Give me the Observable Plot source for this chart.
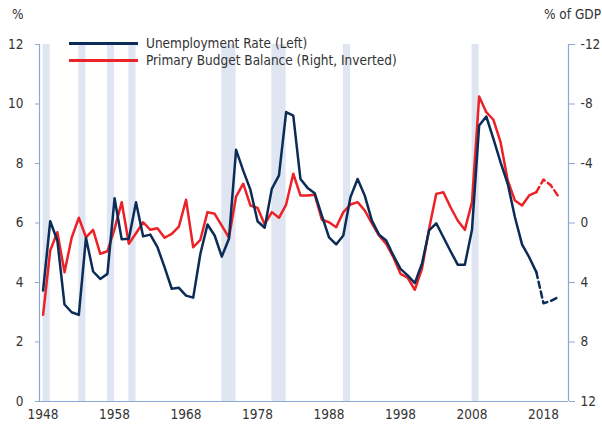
<!DOCTYPE html>
<html>
<head>
<meta charset="utf-8">
<script src="https://cdn.jsdelivr.net/npm/d3@7"></script>
<script src="https://cdn.jsdelivr.net/npm/@observablehq/plot@0.6"></script>
<style>
  html, body { margin: 0; padding: 0; background: #fff; }
  #wrap { position: relative; width: 602px; height: 425px; font-family: "Liberation Sans Narrow", "DejaVu Sans Condensed", "Arial Narrow", sans-serif; color: #333; }
  .lg { position: absolute; left: 69px; font-size: 13.5px; line-height: 17px; white-space: nowrap; }
  .lg span.sw { display: inline-block; width: 69px; height: 3px; vertical-align: middle; margin-right: 8px; position: relative; top: -1px; }
  .unit { position: absolute; top: 6px; font-size: 13.5px; }
</style>
</head>
<body>
<div id="wrap"></div>
<script>
// Years of the category axis (band centres)
const firstYear = 1948, lastYear = 2021;
const xTicks = [1948, 1958, 1968, 1978, 1988, 1998, 2008, 2018];
const leftTicks = [0, 2, 4, 6, 8, 10, 12];

// Unemployment rate, % (left axis), actual 1948-2017
const unempYears = d3.range(1948, 2018);
const unempValues = [
  3.73, 6.06, 5.41, 3.26, 3.00, 2.91, 5.50, 4.37, 4.12, 4.29,
  6.83, 5.45, 5.47, 6.70, 5.55, 5.61, 5.19, 4.51, 3.79, 3.82,
  3.56, 3.49, 4.96, 5.95, 5.58, 4.87, 5.47, 8.46, 7.76, 7.12,
  6.06, 5.84, 7.15, 7.60, 9.73, 9.61, 7.48, 7.18, 7.00, 6.25,
  5.52, 5.28, 5.58, 6.87, 7.48, 6.92, 6.08, 5.61, 5.41, 4.91,
  4.46, 4.24, 3.98, 4.63, 5.75, 5.99, 5.52, 5.05, 4.60, 4.60,
  5.77, 9.28, 9.58, 8.83, 8.04, 7.32, 6.20, 5.28, 4.85, 4.35
];
// Unemployment projection (dashed)
const unempProjYears = [2017, 2018, 2019, 2020];
const unempProjValues = [4.35, 3.30, 3.38, 3.50];

// Primary budget balance, % of GDP (right axis, inverted), actual 1948-2017
const budgetYears = d3.range(1948, 2018);
const budgetValues = [
  6.17, 1.85, 0.62, 3.31, 0.99, -0.35, 0.96, 0.46, 2.07, 1.90,
  0.39, -1.40, 1.40, 0.69, -0.05, 0.46, 0.35, 0.99, 0.73, 0.24,
  -1.56, 1.63, 1.13, -0.73, -0.62, 0.17, 0.99, -1.78, -2.64, -1.18,
  -1.02, 0.10, -0.73, -0.35, -1.24, -3.31, -1.85, -1.85, -1.90, -0.22,
  -0.05, 0.28, -0.73, -1.24, -1.40, -0.84, 0.02, 0.84, 1.40, 2.30,
  3.42, 3.68, 4.49, 3.08, 0.39, -1.96, -2.07, -1.06, -0.17, 0.46,
  -1.40, -8.50, -7.45, -6.94, -5.43, -2.86, -1.51, -1.18, -1.85, -2.07
];
const budgetProjYears = [2017, 2018, 2019, 2020];
const budgetProjValues = [-2.07, -2.92, -2.55, -1.85];
const rightTicks = [-12, -8, -4, 0, 4, 8, 12];

// Recession periods (shaded)
const recStart = [1948, 1953, 1957, 1960, 1973, 1980, 1990, 2008];
const recEnd   = [1949, 1954, 1958, 1961, 1975, 1982, 1991, 2009];

const navy = "#0b2c56", red = "#ec2227", shade = "#dfe6f1", axisCol = "#8ea8d6";
const zip = (xs, ys) => xs.map((x, i) => ({year: x, value: ys[i]}));
const unemp = zip(unempYears, unempValues);
const unempProj = zip(unempProjYears, unempProjValues);
const budget = zip(budgetYears, budgetValues);
const budgetProj = zip(budgetProjYears, budgetProjValues);
const recessions = recStart.map((s, i) => ({start: s, end: recEnd[i]}));
// right axis (inverted) mapped onto left scale: left = 6 - right/2
const toLeft = r => 6 - r / 2;
const xDomain = [firstYear - 0.5, lastYear + 0.5];
const yDomain = [0, 12];

const chart = Plot.plot({
  width: 602, height: 425,
  marginLeft: 39, marginRight: 34, marginTop: 44, marginBottom: 24,
  x: {domain: xDomain},
  y: {domain: yDomain},
  style: {fontFamily: "'Liberation Sans Narrow', 'DejaVu Sans Condensed', 'Arial Narrow', sans-serif", fontSize: "13.5px", color: "#333", background: "#fff"},
  marks: [
    Plot.rect(recessions, {x1: "start", x2: "end", fill: shade}),
    Plot.ruleX([xDomain[0]], {stroke: axisCol, strokeWidth: 1.2}),
    Plot.ruleX([xDomain[1]], {stroke: axisCol, strokeWidth: 1.2}),
    Plot.ruleY([yDomain[0]], {stroke: axisCol, strokeWidth: 1.2}),
    Plot.axisY({anchor: "left", ticks: leftTicks, tickSize: 4, tickPadding: 12, label: null, stroke: axisCol, tickFormat: d => String(d)}),
    Plot.axisY({anchor: "right", ticks: rightTicks.map(toLeft), tickSize: 6, tickPadding: 6, label: null, stroke: axisCol,
      tickFormat: L => String(12 - 2 * L)}),
    Plot.axisX({ticks: xTicks, tickSize: 0, tickPadding: 8, label: null, tickFormat: d => String(d)}),
    Plot.line(budget, {x: "year", y: d => toLeft(d.value), stroke: red, strokeWidth: 2.5}),
    Plot.line(budgetProj, {x: "year", y: d => toLeft(d.value), stroke: red, strokeWidth: 2.5, strokeDasharray: "6,4"}),
    Plot.line(unemp, {x: "year", y: "value", stroke: navy, strokeWidth: 2.5}),
    Plot.line(unempProj, {x: "year", y: "value", stroke: navy, strokeWidth: 2.5, strokeDasharray: "6,4"})
  ]
});

const wrap = document.getElementById("wrap");
wrap.appendChild(chart);
const add = (html, style, cls) => { const d = document.createElement("div"); d.className = cls; d.innerHTML = html; Object.assign(d.style, style); wrap.appendChild(d); };
add("%", {left: "12px"}, "unit");
add("% of GDP", {right: "1px"}, "unit");
add('<span class="sw" style="background:' + navy + '"></span>Unemployment Rate (Left)', {top: "35px"}, "lg");
add('<span class="sw" style="background:' + red + '"></span>Primary Budget Balance (Right, Inverted)', {top: "52px"}, "lg");
</script>
</body>
</html>
